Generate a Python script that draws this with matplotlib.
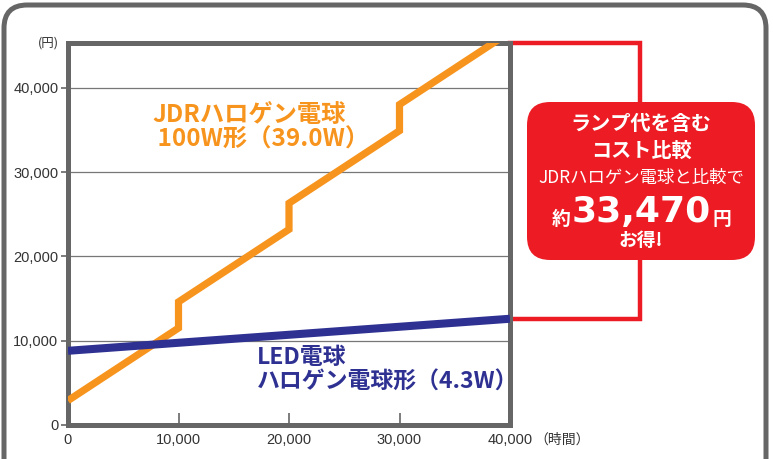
import matplotlib
matplotlib.use("Agg")
import matplotlib.pyplot as plt
from matplotlib.patches import FancyBboxPatch
from matplotlib.text import Annotation

plt.rcParams['font.family'] = ['Noto Sans CJK JP', 'DejaVu Sans']

# Data
hours = [0, 10000, 10000, 20000, 20000, 30000, 30000, 40000]
halogen_cost = [2900, 11500, 14600, 23200, 26300, 34900, 38000, 46600]
led_hours = [0, 40000]
led_cost = [8800, 12600]
x_ticks = [0, 10000, 20000, 30000, 40000]
x_ticklabels = ["0", "10,000", "20,000", "30,000", "40,000"]
y_ticks = [0, 10000, 20000, 30000, 40000]
y_ticklabels = ["0", "10,000", "20,000", "30,000", "40,000"]

ORANGE = "#F7941D"
NAVY = "#2E3192"
RED = "#ED1C24"
GRAY = "#666666"

W, H = 773, 459
fig = plt.figure(figsize=(W / 100, H / 100), dpi=100)
fig.patch.set_facecolor("white")

# outer rounded frame
frame = FancyBboxPatch((4 / W, -30 / H), (766 - 4) / W, (454 + 30) / H,
                       boxstyle="round,pad=0,rounding_size=0.03",
                       transform=fig.transFigure, facecolor="none",
                       edgecolor=GRAY, linewidth=3.6, mutation_aspect=W / H)
fig.patches.append(frame)

ax = fig.add_axes([68 / W, (459 - 425) / H, (510 - 68) / W, (425 - 43) / H])
ax.set_xlim(0, 40000)
ax.set_ylim(0, 45300)

for s in ax.spines.values():
    s.set_color(GRAY)
    s.set_linewidth(3.6)

for yv in y_ticks[1:]:
    ax.axhline(yv, color="#777777", linewidth=0.9, zorder=1)

ax.plot(hours, halogen_cost, color=ORANGE, linewidth=5.2, zorder=3,
        solid_joinstyle="miter", solid_capstyle="butt")
ax.plot(led_hours, led_cost, color=NAVY, linewidth=5.8, zorder=4,
        solid_capstyle="butt")

ax.set_xticks(x_ticks)
ax.set_xticklabels(x_ticklabels)
ax.set_yticks(y_ticks)
ax.set_yticklabels(y_ticklabels)
ax.tick_params(axis="x", direction="in", length=9, width=1.2, color=GRAY,
               labelsize=10.5, labelcolor="#333333", pad=6)
ax.tick_params(axis="y", direction="out", length=5, width=1.2, color=GRAY,
               labelsize=10.5, labelcolor="#333333", pad=2)
for lbl in ax.get_xticklabels() + ax.get_yticklabels():
    lbl.set_family(['Liberation Sans'])

ax.text(-0.02, 1.0, "(円)", transform=ax.transAxes, ha="right", va="center",
        fontsize=9, color="#333333")
fig.text(534 / W, (459 - 440) / H, "（時間）", ha="left", va="center",
         fontsize=10, color="#333333")

ax.text(7600, 38200, "JDRハロゲン電球\n 100W形（39.0W）", color=ORANGE,
        fontsize=17.5, fontweight="bold", ha="left", va="top", linespacing=1.05,
        zorder=5)
ax.text(17100, 9400, "LED電球\nハロゲン電球形（4.3W）", color=NAVY,
        fontsize=16.5, fontweight="bold", ha="left", va="top", linespacing=1.1,
        zorder=5)

# red bracket
ymax = ax.get_ylim()[1]
bx = 51800
ax.plot([40000, bx, bx, 40000], [ymax, ymax, led_cost[-1], led_cost[-1]],
        color=RED, linewidth=3.2, clip_on=False, zorder=2,
        solid_joinstyle="miter")

# red box
box = FancyBboxPatch((527 / W, (459 - 260) / H), (755 - 527) / W, (260 - 102) / H,
                     boxstyle="round,pad=0,rounding_size=0.03",
                     transform=fig.transFigure, facecolor=RED, edgecolor="none",
                     mutation_aspect=W / H, zorder=5)
fig.patches.append(box)

cx = 641 / W
def fy(py):
    return (459 - py) / H

fig.text(cx, fy(124), "ランプ代を含む", color="white", fontsize=14.5,
         fontweight="bold", ha="center", va="center", zorder=6)
fig.text(cx, fy(150), "コスト比較", color="white", fontsize=14.5,
         fontweight="bold", ha="center", va="center", zorder=6)
fig.text(cx, fy(178), "JDRハロゲン電球と比較で", color="white", fontsize=12.5,
         ha="center", va="center", zorder=6)
num = fig.text(641 / W, fy(222), "33,470", color="white", fontsize=26,
               fontweight="bold", ha="center", va="baseline", zorder=6,
               family=['DejaVu Sans'])
pre = Annotation("約", xy=(0, 0), xycoords=num, ha="right", va="bottom",
                 xytext=(-1, 0), textcoords="offset points",
                 color="white", fontsize=13.5, fontweight="bold",
                 annotation_clip=False)
pre.set_zorder(7)
fig.add_artist(pre)
post = Annotation("円", xy=(1, 0), xycoords=num, ha="left", va="bottom",
                  xytext=(1, 0), textcoords="offset points",
                  color="white", fontsize=13.5, fontweight="bold",
                  annotation_clip=False)
post.set_zorder(7)
fig.add_artist(post)
fig.text(cx, fy(240), "お得!", color="white", fontsize=13.5,
         fontweight="bold", ha="center", va="center", zorder=6)

fig.savefig("out.png", dpi=100)
